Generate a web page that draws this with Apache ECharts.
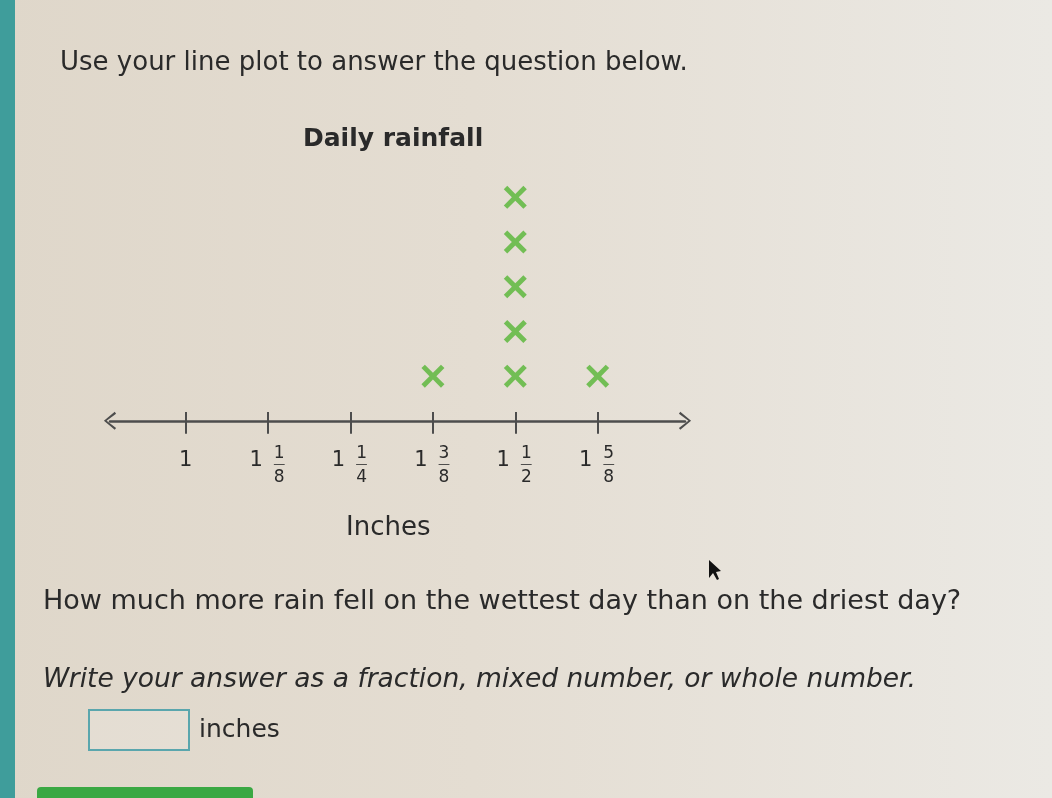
<!DOCTYPE html>
<html>
<head>
<meta charset="utf-8">
<script src="https://cdn.jsdelivr.net/npm/echarts@6/dist/echarts.min.js"></script>
<style>
html,body{margin:0;padding:0;width:1052px;height:798px;overflow:hidden;
background:linear-gradient(90deg,#dfd7ca 0%,#e4ddd2 45%,#ebe9e4 100%);}
#strip{position:absolute;left:0;top:0;width:15px;height:798px;background:#3f9d9b;}
#c{position:absolute;left:0;top:0;width:1052px;height:798px;}
</style>
</head>
<body>
<div id="strip"></div>
<div id="c"></div>
<script>
// Data (x in eighths of an inch above 1 inch)
const tickValues = [0, 1, 2, 3, 4, 5];
const wholeLabels = ['1', '1', '1', '1', '1', '1'];
const numerators = ['', '1', '1', '3', '1', '5'];
const denominators = ['', '8', '4', '8', '2', '8'];
const counts = [0, 0, 0, 1, 5, 1];

const points = [];
tickValues.forEach((v, i) => { for (let k = 1; k <= counts[i]; k++) points.push([v, k]); });

const xMark = 'path://M3,0 L10,7 L17,0 L20,3 L13,10 L20,17 L17,20 L10,13 L3,20 L0,17 L7,10 L0,3 Z';
const chevron = 'path://M10,0 L20,12 L18,13.5 L10,3 L2,13.5 L0,12 Z';
const txt = '#2a2a2a';
const font = 'DejaVu Sans';

const chart = echarts.init(document.getElementById('c'), null, {renderer: 'canvas'});
const common = {type: 'value', min: -0.92, max: 6.06, gridIndex: 0, splitLine: {show: false}};
chart.setOption({
  backgroundColor: 'transparent',
  animation: false,
  grid: {left: 110, right: 367, top: 175, bottom: 374},
  xAxis: [
    Object.assign({}, common, {
      position: 'bottom',
      axisLine: {show: true, symbol: [chevron, chevron], symbolSize: [18, 13],
        lineStyle: {color: '#4d4d4d', width: 2.5}},
      axisTick: {show: true, customValues: tickValues, length: 13, inside: false,
        lineStyle: {color: '#4d4d4d', width: 2}},
      axisLabel: {show: true, customValues: tickValues, margin: 26,
        formatter: function (v) {
          const i = tickValues.indexOf(Math.round(v));
          return i === 0 ? '{c|' + wholeLabels[i] + '}' : '{w|' + wholeLabels[i] + '}';
        },
        rich: {
          c: {fontFamily: font, fontSize: 21, color: txt},
          w: {fontFamily: font, fontSize: 21, color: txt, padding: [0, 24, 0, 0]}
        }
      }
    }),
    Object.assign({}, common, {
      position: 'bottom',
      axisLine: {show: false},
      axisTick: {show: true, customValues: tickValues, length: 12, inside: true,
        lineStyle: {color: '#4d4d4d', width: 2}},
      axisLabel: {show: true, customValues: tickValues.slice(1), margin: 20,
        formatter: function (v) {
          const i = tickValues.indexOf(Math.round(v));
          return '{n|' + numerators[i] + '}\n{b|—}\n{d|' + denominators[i] + '}';
        },
        rich: {
          n: {fontFamily: font, fontSize: 17, color: txt, lineHeight: 19, padding: [0, 0, 0, 22]},
          b: {fontFamily: font, fontSize: 12, color: '#3a3a3a', lineHeight: 4, padding: [0, 0, 0, 22]},
          d: {fontFamily: font, fontSize: 17, color: txt, lineHeight: 21, padding: [0, 0, 0, 22]}
        }
      }
    })
  ],
  yAxis: {type: 'value', min: -0.07, max: 5.5, show: false, splitLine: {show: false}},
  series: [{
    type: 'scatter',
    xAxisIndex: 0,
    data: points,
    symbol: xMark,
    symbolSize: 23,
    itemStyle: {color: '#55b535'}
  }],
  graphic: [
    {type: 'text', left: 60, top: 50, style: {text: 'Use your line plot to answer the question below.',
      font: '26px "' + font + '"', fill: txt}},
    {type: 'text', left: 303, top: 127, style: {text: 'Daily rainfall',
      font: 'bold 25px "' + font + '"', fill: txt}},
    {type: 'text', left: 346, top: 515, style: {text: 'Inches',
      font: '26px "' + font + '"', fill: txt}},
    {type: 'text', left: 43, top: 588, style: {text: 'How much more rain fell on the wettest day than on the driest day?',
      font: '27px "' + font + '"', fill: txt}},
    {type: 'text', left: 43, top: 667, style: {text: 'Write your answer as a fraction, mixed number, or whole number.',
      font: 'italic 26.5px "' + font + '"', fill: txt}},
    {type: 'rect', shape: {x: 89, y: 710, width: 100, height: 40},
      style: {fill: 'rgba(255,255,255,0.15)', stroke: '#5aa6ad', lineWidth: 2}},
    {type: 'text', left: 199, top: 718, style: {text: 'inches',
      font: '25px "' + font + '"', fill: txt}},
    {type: 'rect', shape: {x: 37, y: 787, width: 216, height: 20, r: 4},
      style: {fill: '#3aa843'}},
    {type: 'polygon', shape: {points: [[709, 560], [709, 578], [713, 573], [717, 580], [719, 579], [716, 572], [721, 571]]},
      style: {fill: '#111'}}
  ]
});
</script>
</body>
</html>
